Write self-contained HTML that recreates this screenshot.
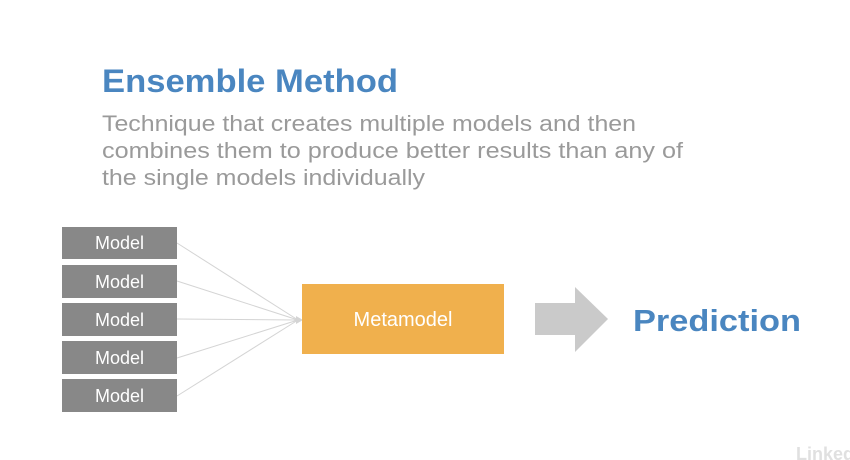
<!DOCTYPE html>
<html><head><meta charset="utf-8"><style>
html,body{margin:0;padding:0;background:#fff;width:850px;height:460px;overflow:hidden}
</style></head><body>
<svg width="850" height="460" xmlns="http://www.w3.org/2000/svg" font-family="Liberation Sans, sans-serif">
<rect width="850" height="460" fill="#fff"/>
<text x="102" y="92" font-size="32" font-weight="bold" fill="#4a86c0" textLength="296" lengthAdjust="spacingAndGlyphs">Ensemble Method</text>
<g fill="#9a9a9a" font-size="22">
<text x="102" y="131" textLength="534" lengthAdjust="spacingAndGlyphs">Technique that creates multiple models and then</text>
<text x="102" y="158" textLength="581" lengthAdjust="spacingAndGlyphs">combines them to produce better results than any of</text>
<text x="102" y="185" textLength="323" lengthAdjust="spacingAndGlyphs">the single models individually</text>
</g>
<g stroke="#d4d4d4" stroke-width="1">
<line x1="177" y1="243" x2="298" y2="320"/>
<line x1="177" y1="281" x2="298" y2="320"/>
<line x1="177" y1="319" x2="298" y2="320"/>
<line x1="177" y1="358" x2="298" y2="320"/>
<line x1="177" y1="396" x2="298" y2="320"/>
</g>
<polygon points="296,316 303,320 296,324" fill="#d4d4d4"/>
<g fill="#888">
<rect x="62" y="227" width="115" height="32"/>
<rect x="62" y="265" width="115" height="33"/>
<rect x="62" y="303" width="115" height="33"/>
<rect x="62" y="341" width="115" height="33"/>
<rect x="62" y="379" width="115" height="33"/>
</g>
<g fill="#fff" font-size="18" text-anchor="middle">
<text x="119.5" y="249">Model</text>
<text x="119.5" y="288">Model</text>
<text x="119.5" y="326">Model</text>
<text x="119.5" y="364">Model</text>
<text x="119.5" y="402">Model</text>
</g>
<rect x="302" y="284" width="202" height="70" fill="#f0b04d"/>
<text x="403" y="326" fill="#fff" font-size="20" text-anchor="middle">Metamodel</text>
<polygon points="535,303 575,303 575,287 608,319 575,352 575,335 535,335" fill="#cacaca"/>
<text x="633" y="331" font-size="31" font-weight="bold" fill="#4a86c0" textLength="168" lengthAdjust="spacingAndGlyphs">Prediction</text>
<text x="796" y="460" font-size="18" font-weight="bold" fill="#e0e0e0">Linked</text>
</svg>
</body></html>
